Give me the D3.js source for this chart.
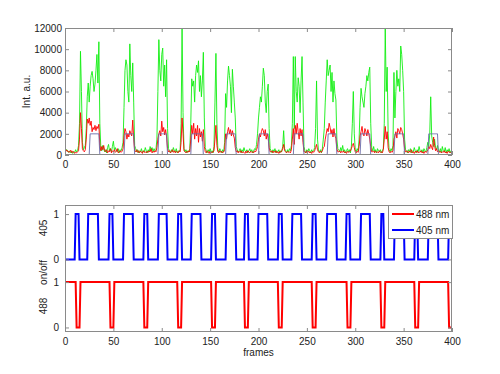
<!DOCTYPE html>
<html>
<head>
<meta charset="utf-8">
<script src="https://cdn.jsdelivr.net/npm/d3@7"></script>
<style>
  body { margin: 0; background: #fff; }
  svg { font-family: Arial, "Liberation Sans", Helvetica, sans-serif; }
</style>
</head>
<body>
<div id="chart"></div>
<script>
/* DATA */
// frame index 0..400
const frames = d3.range(0, 401);

// green channel intensity, one value per frame (rows of 10 frames)
const green = [
  600, 450, 500, 300, 250, 400, 200, 350, 150, 300,
  250, 500, 300, 400, 900, 3000, 9800, 6000, 1200, 500,
  700, 900, 2500, 5500, 6800, 5000, 6500, 7500, 7900, 7200,
  6000, 6700, 8000, 9500, 6800, 10700, 3000, 700, 400, 900,
  600, 300, 500, 200, 700, 1000, 400, 600, 300, 800,
  1300, 500, 700, 400, 300, 600, 200, 500, 400, 700,
  1200, 4500, 8000, 9000, 8500, 6000, 5000, 10500, 7500, 6000,
  8700, 5000, 900, 600, 300, 500, 200, 400, 300, 600,
  200, 400, 300, 700, 400, 200, 500, 300, 800, 500,
  700, 300, 600, 400, 500, 1500, 6000, 10900, 8000, 7000,
  9500, 10100, 6500, 8500, 5500, 9000, 2500, 600, 400, 200,
  500, 300, 700, 400, 300, 600, 200, 400, 300, 500,
  3000, 12000, 4000, 600, 300, 500, 200, 400, 300, 600,
  3000, 7200, 6500, 7000, 5000, 7500, 8500, 7800, 8900, 6000,
  7500, 5500, 7000, 9700, 3500, 700, 400, 200, 500, 300,
  600, 300, 400, 200, 800, 5000, 9600, 3000, 500, 300,
  600, 400, 200, 500, 300, 1200, 5800, 4500, 7000, 8400,
  7500, 6500, 4000, 8100, 6500, 5000, 3500, 800, 500, 300,
  400, 600, 200, 500, 300, 700, 400, 300, 500, 200,
  400, 600, 300, 500, 200, 400, 600, 500, 1000, 2000,
  3500, 4500, 5500, 5000, 6500, 8200, 7500, 5000, 4000, 6000,
  6700, 2500, 600, 400, 200, 500, 300, 600, 200, 400,
  300, 500, 200, 400, 300, 800, 2300, 600, 400, 200,
  500, 300, 600, 400, 900, 3000, 9300, 2500, 9300, 6000,
  5000, 7300, 6500, 4000, 7000, 9300, 5000, 800, 400, 200,
  500, 300, 600, 400, 200, 500, 300, 400, 700, 2500,
  7000, 1500, 400, 300, 500, 200, 600, 1500, 2500, 5000,
  7000, 9000, 7500, 8000, 8500, 6000, 7800, 5000, 7000, 5800,
  5200, 1500, 600, 500, 300, 700, 400, 900, 300, 500,
  200, 400, 600, 300, 500, 200, 800, 3000, 6000, 2000,
  500, 300, 600, 400, 1500, 4500, 6300, 5500, 5000, 4500,
  5800, 6500, 7500, 7000, 7800, 8300, 3000, 700, 400, 800,
  300, 500, 200, 600, 400, 300, 500, 200, 400, 600,
  3000, 12000, 6000, 8300, 2000, 500, 300, 600, 400, 900,
  7800, 3500, 6000, 8000, 6500, 7200, 6000, 10300, 9500, 8000,
  6000, 1500, 500, 400, 200, 500, 300, 600, 200, 400,
  300, 700, 400, 200, 500, 300, 800, 400, 300, 500,
  200, 600, 400, 300, 700, 1200, 800, 2000, 5500, 1800,
  1200, 800, 1500, 700, 500, 900, 400, 300, 600, 200,
  800, 400, 300, 700, 200, 500, 300, 600, 200, 400,
  300
];

// red channel intensity, one value per frame
const red = [
  300, 500, 350, 400, 250, 300, 450, 200, 350, 300,
  150, 250, 200, 300, 400, 1500, 4000, 2500, 600, 400,
  300, 500, 1500, 3400, 3000, 3500, 2800, 3200, 2200, 2600,
  2400, 2800, 2300, 2700, 2500, 2900, 900, 400, 800, 500,
  900, 400, 300, 500, 200, 400, 300, 600, 200, 400,
  300, 500, 250, 350, 600, 200, 300, 400, 250, 350,
  600, 1800, 2500, 2200, 1500, 2000, 1700, 2300, 2000, 1800,
  3300, 1500, 400, 300, 500, 250, 400, 200, 350, 300,
  150, 400, 250, 300, 200, 350, 250, 400, 300, 600,
  200, 350, 250, 400, 300, 700, 1500, 2000, 2300, 1800,
  3200, 2200, 2600, 1900, 2400, 1700, 600, 300, 400, 200,
  300, 500, 250, 400, 200, 350, 300, 200, 400, 300,
  1200, 3500, 2000, 400, 300, 200, 350, 250, 400, 300,
  1500, 2800, 2000, 3000, 1500, 2500, 1800, 2800, 1200, 2500,
  1700, 2200, 1300, 2400, 800, 300, 200, 400, 300, 150,
  350, 200, 300, 250, 400, 1500, 2800, 900, 300, 200,
  400, 250, 350, 200, 300, 500, 2000, 1500, 2200, 2600,
  2000, 2400, 1800, 2300, 1900, 1600, 700, 300, 400, 200,
  350, 250, 400, 200, 300, 250, 150, 350, 200, 400,
  300, 200, 350, 250, 300, 200, 400, 300, 500, 800,
  1500, 2000, 1700, 2200, 2500, 2300, 1800, 2400, 1500, 2000,
  1600, 700, 300, 300, 400, 200, 350, 250, 400, 200,
  300, 150, 350, 250, 400, 600, 1000, 400, 300, 200,
  350, 250, 300, 200, 500, 1500, 2500, 1000, 2800, 2000,
  3000, 2200, 1500, 2500, 1800, 2400, 1200, 300, 300, 200,
  400, 250, 350, 200, 300, 150, 350, 250, 400, 700,
  1000, 500, 300, 200, 350, 250, 400, 700, 800, 1500,
  2000, 2500, 2200, 3000, 2600, 2000, 2400, 1700, 2500, 1800,
  1600, 600, 300, 300, 400, 200, 350, 250, 400, 200,
  300, 150, 350, 250, 300, 400, 600, 900, 1100, 700,
  300, 200, 350, 250, 800, 1800, 2200, 2700, 2000, 1800,
  2500, 2200, 1800, 2400, 2000, 1500, 800, 300, 300, 400,
  200, 350, 250, 300, 200, 400, 250, 300, 200, 500,
  1500, 2700, 1500, 2200, 700, 300, 200, 350, 250, 400,
  1500, 1800, 2200, 1600, 2500, 2300, 2000, 2600, 2400, 2000,
  1500, 600, 300, 300, 400, 200, 350, 250, 500, 200,
  300, 150, 350, 250, 400, 200, 300, 250, 400, 200,
  300, 150, 350, 250, 300, 500, 800, 600, 1000, 700,
  500, 1700, 900, 400, 600, 300, 400, 250, 350, 200,
  300, 250, 400, 200, 300, 150, 350, 250, 300, 200,
  250
];

// frames where the reference marker sits at 2000 (top panel)
const markerOn = [[26,35],[62,71],[97,105],[131,142],[167,176],[201,210],
                  [237,246],[272,280],[306,315],[341,350],[376,385]];
const markerLevel = 2000;

// 405 nm laser on windows (short and long pulses)
const on405 = [[11,14],[24,34],[46,49],[61,70],[82,85],[97,105],[117,120],[131,140],
               [152,155],[167,176],[186,189],[200,209],[221,224],[235,244],[256,259],
               [271,280],[291,294],[306,315],[327,329],[341,350],[362,364],[376,385],[397,400]];
// 488 nm laser off windows
const off488 = [[12,15],[47,50],[82,85],[117,120],[152,155],[186,189],[221,224],
                [256,259],[292,295],[327,330],[362,365],[397,400]];

const offset405 = 1.5;
const xTicks = [0, 50, 100, 150, 200, 250, 300, 350, 400];
const intTicks = [0, 2000, 4000, 6000, 8000, 10000, 12000];
const onTicks = [0, 1, 0 + offset405, 1 + offset405];
const onTickLabels = ["0", "1", "0", "1"];
const legendItems = [{name: "488 nm", color: "#ff0000"}, {name: "405 nm", color: "#0000ff"}];

/* LAYOUT */
const width = 500, height = 374;
const left = 65, right = 452;
const top1 = 28, bottom1 = 155;
const top2 = 205, bottom2 = 332;
const boxColor = "#8a8a8a";
const textColor = "#222";

const svg = d3.select("#chart").append("svg")
  .attr("width", width)
  .attr("height", height);

const x = d3.scaleLinear().domain([0, 400]).range([left, right]);
const yInt = d3.scaleLinear().domain([0, 12000]).range([bottom1, top1]);
const yOn = d3.scaleLinear().domain([-0.1, 2.7]).range([bottom2, top2]);

const inWindows = (f, windows) => windows.some(([a, b]) => f >= a && f <= b);

// clip paths
const defs = svg.append("defs");
defs.append("clipPath").attr("id", "clipTop")
  .append("rect").attr("x", left).attr("y", top1 - 1).attr("width", right - left).attr("height", bottom1 - top1 + 1);
defs.append("clipPath").attr("id", "clipBot")
  .append("rect").attr("x", left).attr("y", top2).attr("width", right - left).attr("height", bottom2 - top2);

const styleAxis = g => {
  g.select(".domain").remove();
  g.selectAll(".tick line").attr("stroke", boxColor);
  g.selectAll(".tick text").attr("fill", textColor).attr("font-size", 10);
};

const drawFrame = (y, yTop, yBot, yTickVals, yFmt, yPad) => {
  svg.append("g").attr("transform", `translate(0,${yBot})`)
    .call(d3.axisBottom(x).tickValues(xTicks).tickSize(-4).tickPadding(6))
    .call(styleAxis);
  svg.append("g").attr("transform", `translate(0,${yTop})`)
    .call(d3.axisTop(x).tickValues(xTicks).tickSize(-4).tickFormat(""))
    .call(styleAxis);
  svg.append("g").attr("transform", `translate(${left},0)`)
    .call(d3.axisLeft(y).tickValues(yTickVals).tickSize(-4).tickPadding(yPad).tickFormat(yFmt))
    .call(styleAxis);
  svg.append("g").attr("transform", `translate(${right},0)`)
    .call(d3.axisRight(y).tickValues(yTickVals).tickSize(-4).tickFormat(""))
    .call(styleAxis);
  svg.append("rect")
    .attr("x", left + 0.5).attr("y", yTop + 0.5)
    .attr("width", right - left - 1).attr("height", yBot - yTop - 1)
    .attr("fill", "none").attr("stroke", boxColor);
};

/* TOP PANEL */
const lineTop = d3.line().x(d => x(d[0])).y(d => yInt(d[1]));
const gTop = svg.append("g").attr("clip-path", "url(#clipTop)");

gTop.append("path")
  .datum(frames.map((f, i) => [f, green[i]]))
  .attr("fill", "none").attr("stroke", "#11ee11").attr("stroke-width", 0.9)
  .attr("d", lineTop);

gTop.append("path")
  .datum(frames.map((f, i) => [f, red[i]]))
  .attr("fill", "none").attr("stroke", "#ff0000").attr("stroke-width", 0.9)
  .attr("d", lineTop);

gTop.append("path")
  .datum(frames.map(f => [f, inWindows(f, markerOn) ? markerLevel : 0]))
  .attr("fill", "none").attr("stroke", "#6a6aa8").attr("stroke-width", 0.9)
  .attr("d", lineTop);

drawFrame(yInt, top1, bottom1, intTicks, d3.format("d"), 3);

svg.append("text")
  .attr("transform", `translate(30,${(top1 + bottom1) / 2}) rotate(-90)`)
  .attr("text-anchor", "middle")
  .attr("font-size", 10).attr("fill", textColor)
  .text("Int. a.u.");

/* BOTTOM PANEL */
const lineBot = d3.line().x(d => x(d[0])).y(d => yOn(d[1]));
const gBot = svg.append("g").attr("clip-path", "url(#clipBot)");

gBot.append("path")
  .datum(frames.map(f => [f, inWindows(f, off488) ? 0 : 1]))
  .attr("fill", "none").attr("stroke", "#ff0000").attr("stroke-width", 2)
  .attr("d", lineBot);

gBot.append("path")
  .datum(frames.map(f => [f, (inWindows(f, on405) ? 1 : 0) + offset405]))
  .attr("fill", "none").attr("stroke", "#0000ff").attr("stroke-width", 2)
  .attr("d", lineBot);

drawFrame(yOn, top2, bottom2, onTicks, (d, i) => onTickLabels[i], 6);

const yLab = [
  {t: "405", y: 228},
  {t: "on/off", y: (top2 + bottom2) / 2 + 4},
  {t: "488", y: 306}
];
svg.selectAll(".ylab")
  .data(yLab)
  .join("text")
  .attr("class", "ylab")
  .attr("transform", d => `translate(47,${d.y}) rotate(-90)`)
  .attr("text-anchor", "middle")
  .attr("font-size", 10).attr("fill", textColor)
  .text(d => d.t);

svg.append("text")
  .attr("x", (left + right) / 2).attr("y", 356)
  .attr("text-anchor", "middle")
  .attr("font-size", 10).attr("fill", textColor)
  .text("frames");

/* LEGEND */
const legend = svg.append("g").attr("transform", "translate(388,205)");
legend.append("rect")
  .attr("x", 0.5).attr("y", 0.5).attr("width", 64).attr("height", 33)
  .attr("fill", "#fff").attr("stroke", boxColor);
const li = legend.selectAll(".li")
  .data(legendItems)
  .join("g")
  .attr("class", "li")
  .attr("transform", (d, i) => `translate(0,${9 + i * 16})`);
li.append("line")
  .attr("x1", 4).attr("x2", 26)
  .attr("stroke", d => d.color).attr("stroke-width", 2);
li.append("text")
  .attr("x", 28).attr("dy", "0.35em")
  .attr("font-size", 10).attr("fill", textColor)
  .text(d => d.name);
</script>
</body>
</html>
